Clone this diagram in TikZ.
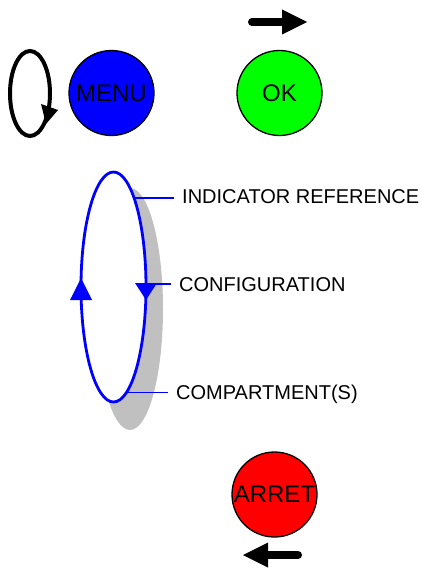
\documentclass[tikz,border=0pt]{standalone}
\usepackage{fontspec}
\setmainfont{Liberation Sans}
\usetikzlibrary{arrows.meta,shapes.geometric}
\definecolor{menublue}{HTML}{0000FF}
\definecolor{okgreen}{HTML}{00FF00}
\definecolor{stopred}{HTML}{FF0000}
\definecolor{shadowgray}{HTML}{C0C0C0}

\begin{document}
\begin{tikzpicture}[x=1pt,y=-1pt,
  key/.style={circle,draw=black,line width=1.3pt,minimum size=85pt,inner sep=0pt,font=\fontsize{24}{24}\selectfont},
  lbl/.style={anchor=base west,inner xsep=8pt,inner ysep=0pt,font=\fontsize{20}{20}\selectfont},
  leader/.style={draw=menublue,line width=1.4pt},
  fat/.style={line width=8pt,line cap=round,-{Triangle[length=25pt 0 0,width=25pt 0 0,line width=0pt]}}]
\useasboundingbox (0,0) rectangle (422,575);
% loop symbol next to MENU
\draw[line width=4pt] (30,93.5) ellipse[x radius=20,y radius=42.5];
\fill (41,104) -- (58,110) -- (46,124) -- cycle;
\node[key,fill=menublue] (menu) at (111.5,93) {MENU};
\node[key,fill=okgreen] (ok) at (279.5,93) {OK};
\node[key,fill=stopred] (arret) at (274.5,494.5) {ARRET};
\coordinate (fwdtail) at (252,22);
\coordinate (fwdtip) at (307,22);
\draw[fat] (fwdtail) -- (fwdtip);
\coordinate (backtail) at (298,555);
\coordinate (backtip) at (243,555);
\draw[fat] (backtail) -- (backtip);
\node[ellipse,fill=shadowgray,minimum width=66pt,minimum height=242pt,inner sep=0pt] (ringshadow) at (130,309) {};
\node[ellipse,draw=menublue,fill=white,line width=2.8pt,minimum width=65pt,minimum height=230pt,inner sep=0pt,outer sep=0pt] (ring) at (113.5,287) {};
\fill[menublue] (ring.west) ++(0,-9) -- ++(11,22) -- ++(-22,0) -- cycle;
\fill[menublue] (ring.east) ++(0,13) -- ++(11,-17) -- ++(-22,0) -- cycle;
\node[lbl] (ind) at (174,203) {INDICATOR REFERENCE};
\node[lbl] (conf) at (171,291) {CONFIGURATION};
\node[lbl] (comp) at (168,399.5) {COMPARTMENT(S)};
\draw[leader] (ring.77) -- (ring.77 -| ind.west);
\draw[leader] (ring.5) -- (ring.5 -| conf.west);
\draw[leader] (ring.-83.5) -- (ring.-83.5 -| comp.west);
\end{tikzpicture}
\end{document}
